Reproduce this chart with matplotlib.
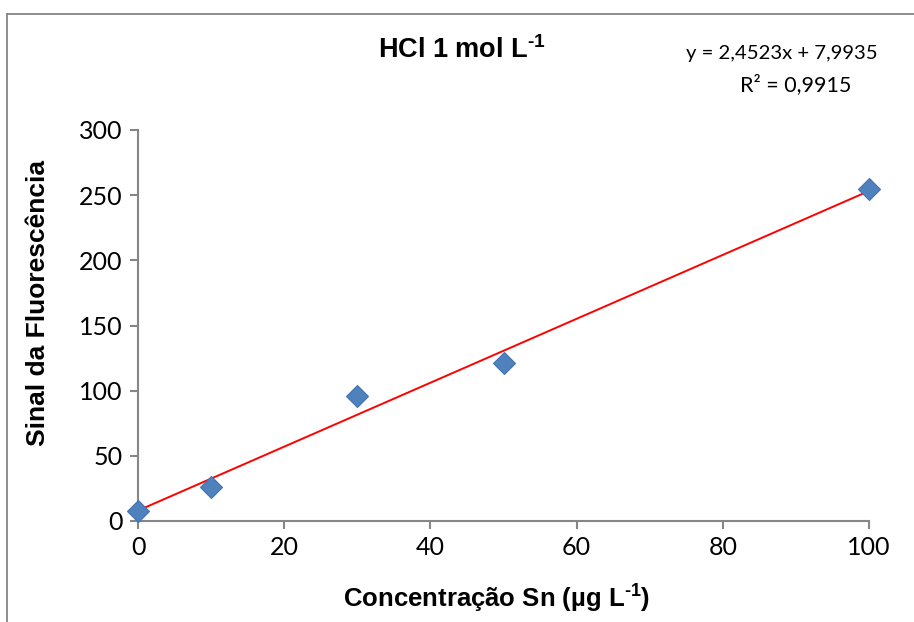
import numpy as np
import matplotlib
matplotlib.use('Agg')
import matplotlib.pyplot as plt
from matplotlib.lines import Line2D

plt.rcParams['mathtext.fontset'] = 'custom'
plt.rcParams['mathtext.bf'] = 'Liberation Sans:bold'
plt.rcParams['mathtext.rm'] = 'Liberation Sans:bold'

# dados
conc = [0, 10, 30, 50, 100]
sinal = [8.0, 26.3, 96.0, 121.5, 254.5]
slope = 2.4523
intercept = 7.9935
r2 = 0.9915

x_ticks = [0, 20, 40, 60, 80, 100]
y_ticks = [0, 50, 100, 150, 200, 250, 300]

GRAY = '#868686'

fig = plt.figure(figsize=(9.14, 6.22), dpi=100)
ax = fig.add_axes([138 / 914, 1 - 521 / 622, (869 - 138) / 914, (521 - 130) / 622])

xl = np.array([conc[0], conc[-1]])
ax.plot(xl, slope * xl + intercept, color='#FF0000', lw=1.4, zorder=2)
ax.plot(conc, sinal, linestyle='none', marker='D', markersize=11,
        markerfacecolor='#4F81BD', markeredgecolor='#4373B0', markeredgewidth=0.8,
        zorder=3, clip_on=False)

ax.set_xlim(0, 100)
ax.set_ylim(0, 300)
ax.set_xticks(x_ticks)
ax.set_yticks(y_ticks)

for s in ['top', 'right']:
    ax.spines[s].set_visible(False)
for s in ['left', 'bottom']:
    ax.spines[s].set_color(GRAY)
    ax.spines[s].set_linewidth(1.5)
ax.tick_params(direction='out', length=6, width=1.5, color=GRAY, pad=5,
               labelsize=18)
for lab in ax.get_xticklabels() + ax.get_yticklabels():
    lab.set_family('Lato')

fig.text(497 / 914, 1 - 598 / 622, r'Concentração Sn (µg L$^{\text{-1}}$)',
         ha='center', va='center', fontsize=18.5, fontweight='bold',
         family='Liberation Sans')
fig.text(38 / 914, 1 - 303 / 622, 'Sinal da Fluorescência', rotation=90,
         ha='center', va='center', fontsize=19, fontweight='bold',
         family='Liberation Sans')
fig.text(462 / 914, 1 - 50 / 622, r'HCl 1 mol L$^{\text{-1}}$',
         ha='center', va='center', fontsize=19.5, fontweight='bold',
         family='Liberation Sans')

eq = f'y = {slope:.4f}x + {intercept:.4f}'.replace('.', ',')
rr = f'R² = {r2:.4f}'.replace('.', ',')
fig.text(878 / 914, 1 - 53 / 622, eq, ha='right', va='center', fontsize=14.6,
         family='Lato')
fig.text(796 / 914, 1 - 85 / 622, rr, ha='center', va='center', fontsize=15.5,
         family='Lato')

# moldura do gráfico
fig.add_artist(Line2D([7.5 / 914, 1], [1 - 14 / 622, 1 - 14 / 622],
                      transform=fig.transFigure, color=GRAY, lw=1.3))
fig.add_artist(Line2D([7.5 / 914, 7.5 / 914], [0, 1 - 14 / 622],
                      transform=fig.transFigure, color=GRAY, lw=1.3))

fig.savefig('out.png', dpi=100)
